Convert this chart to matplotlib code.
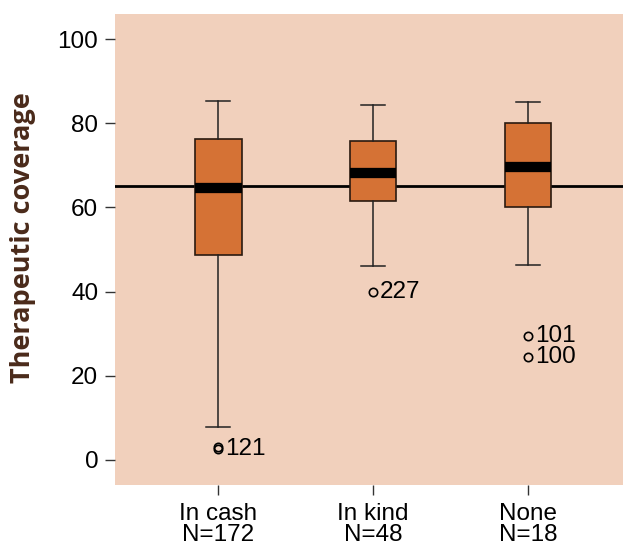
import matplotlib
matplotlib.use("Agg")
import matplotlib.pyplot as plt

# values
groups = ['In cash', 'In kind', 'None']
counts = [172, 48, 18]
whisker_low = [7.9, 46.0, 46.3]
q1 = [48.6, 61.5, 60.0]
median = [64.7, 68.3, 69.5]
q3 = [76.3, 75.8, 80.1]
whisker_high = [85.4, 84.4, 85.1]
outliers = [[2.5, 3.0], [39.8], [29.5, 24.4]]
outlier_ids = [['121', ''], ['227'], ['101', '100']]
reference = 65.0

bg = '#f1d0bc'
box_col = '#d57235'
label_col = '#4a2a1a'

plt.rcParams['font.family'] = ['Liberation Sans', 'DejaVu Sans']

fig = plt.figure(figsize=(6.23, 5.46), dpi=100)
ax = fig.add_axes([0.1846, 0.1117, 0.8154, 0.8627])
ax.set_facecolor(bg)

stats = []
for i, g in enumerate(groups):
    stats.append({'whislo': whisker_low[i], 'q1': q1[i], 'med': median[i],
                  'q3': q3[i], 'whishi': whisker_high[i], 'fliers': outliers[i],
                  'label': '%s\nN=%d' % (g, counts[i])})

pos = [1, 2, 3]
ax.axhline(reference, color='black', lw=2, zorder=1)
ax.bxp(stats, positions=pos, widths=0.3, patch_artist=True, showfliers=True,
       boxprops=dict(facecolor=box_col, edgecolor='#2a1a10', lw=1.2),
       medianprops=dict(color='black', lw=7.4, solid_capstyle='butt'),
       whiskerprops=dict(color='#222222', lw=1.1),
       capprops=dict(color='#222222', lw=1.1),
       capwidths=0.155,
       flierprops=dict(marker='o', markersize=6, markerfacecolor='none',
                       markeredgecolor='black', markeredgewidth=1.2),
       zorder=2)

# ids of the outlying points
for i, vals in enumerate(outliers):
    for v, t in zip(vals, outlier_ids[i]):
        if t:
            ax.text(pos[i] + 0.045, v, t, fontsize=17.5, va='center', ha='left')

ax.set_xlim(0.333, 3.613)
ax.set_ylim(-6.0, 106.0)
ax.set_yticks([0, 20, 40, 60, 80, 100])
ax.tick_params(axis='both', labelsize=17.5, length=7, width=1, color='#333333', pad=5)
ax.tick_params(axis='x', pad=6)
for lbl in ax.get_xticklabels():
    lbl.set_linespacing(0.95)
for s in ax.spines.values():
    s.set_visible(False)

ax.set_ylabel('Therapeutic coverage', fontsize=19.5, fontweight='bold',
              color=label_col, family=['Open Sans', 'DejaVu Sans'])
ax.yaxis.set_label_coords(-0.155, 0.5255)

fig.savefig('out.png', dpi=100)
